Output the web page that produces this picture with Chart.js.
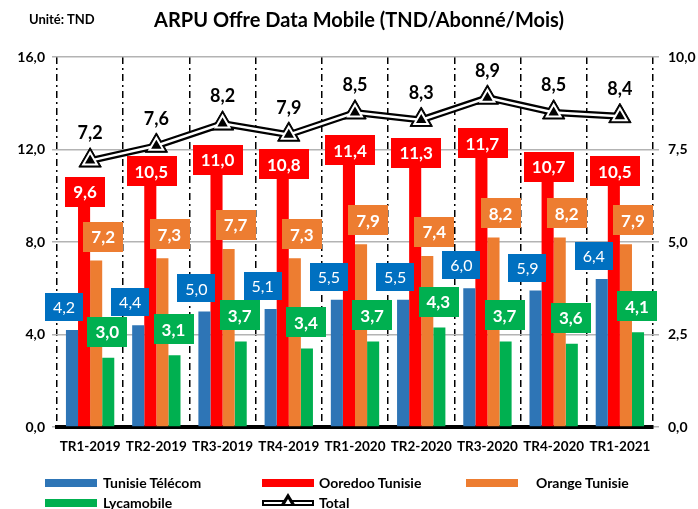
<!DOCTYPE html>
<html><head><meta charset="utf-8">
<script src="https://cdn.jsdelivr.net/npm/chart.js@4.4.1/dist/chart.umd.min.js"></script>
<style>
html,body{margin:0;padding:0;background:#fff;}
#wrap{position:relative;width:698px;height:509px;overflow:hidden;font-family:Lato,'Open Sans',sans-serif;}
canvas{position:absolute;left:0;top:0;}
.t{position:absolute;font-weight:700;color:#000;white-space:nowrap;line-height:1;}
.sw{position:absolute;height:8px;width:52px;}
</style></head><body>
<div id="wrap">
<canvas id="c" width="698" height="509"></canvas>
<div class="t" style="left:29px;top:13px;font-size:13px">Unité: TND</div>
<div class="t" style="left:0;width:718px;text-align:center;top:9px;font-size:20px">ARPU Offre Data Mobile (TND/Abonné/Mois)</div>

<div class="sw" style="left:45px;top:479px;background:#2E75B6"></div>
<div class="t" style="left:103px;top:476px;font-size:14px">Tunisie Télécom</div>
<div class="sw" style="left:262px;top:479px;background:#FF0000"></div>
<div class="t" style="left:319px;top:476px;font-size:14px">Ooredoo Tunisie</div>
<div class="sw" style="left:466px;top:479px;background:#ED7D31"></div>
<div class="t" style="left:536px;top:476px;font-size:14px">Orange Tunisie</div>
<div class="sw" style="left:45px;top:499px;background:#00B050"></div>
<div class="t" style="left:103px;top:496px;font-size:14px">Lycamobile</div>
<div style="position:absolute;left:262px;top:500px;width:48px;height:2px;border:2px solid #000;background:#fff;"></div>
<div style="position:absolute;left:280px;top:493px;width:0;height:0;border-left:8px solid transparent;border-right:8px solid transparent;border-bottom:13px solid #000;"></div>
<div style="position:absolute;left:285px;top:499px;width:0;height:0;border-left:3px solid transparent;border-right:3px solid transparent;border-bottom:5px solid #fff;"></div>
<div class="t" style="left:319px;top:496px;font-size:14px">Total</div>
</div>
<script>
const categories = ['TR1-2019','TR2-2019','TR3-2019','TR4-2019','TR1-2020','TR2-2020','TR3-2020','TR4-2020','TR1-2021'];
const tunisieTelecom = [4.2,4.4,5.0,5.1,5.5,5.5,6.0,5.9,6.4];
const ooredooTunisie = [9.6,10.5,11.0,10.8,11.4,11.3,11.7,10.7,10.5];
const orangeTunisie = [7.2,7.3,7.7,7.3,7.9,7.4,8.2,8.2,7.9];
const lycamobile = [3.0,3.1,3.7,3.4,3.7,4.3,3.7,3.6,4.1];
const total = [7.2,7.6,8.2,7.9,8.5,8.3,8.9,8.5,8.4];
const leftTicks = [0,4,8,12,16];
const rightTicks = [0,2.5,5,7.5,10];

const fmt = v => Number(v).toFixed(1).replace('.', ',');

const boxLabels = {
  id:'boxLabels',
  afterDatasetsDraw(chart){
    const ctx = chart.ctx;
    chart.data.datasets.forEach((ds,i)=>{
      const lb = ds.boxLabel; if(!lb) return;
      const meta = chart.getDatasetMeta(i);
      meta.data.forEach((el,j)=>{
        const txt = fmt(ds.data[j]);
        ctx.save();
        ctx.font = lb.font;
        const w = ctx.measureText(txt).width + lb.padX*2;
        const h = lb.h;
        const cx = el.x + lb.dx, cy = el.y - lb.dy;
        if(lb.bg){ ctx.fillStyle = lb.bg; ctx.fillRect(Math.round(cx-w/2), Math.round(cy-h/2), Math.round(w), h); }
        ctx.fillStyle = lb.color; ctx.textAlign='center'; ctx.textBaseline='middle';
        ctx.fillText(txt, cx, cy+1);
        ctx.restore();
      });
    });
  }
};

const barCommon = {categoryPercentage:0.73, barPercentage:1.0, yAxisID:'y', order:3, borderWidth:0};

new Chart(document.getElementById('c'), {
  type:'bar',
  data:{
    labels:categories,
    datasets:[
      Object.assign({label:'Tunisie Télécom', data:tunisieTelecom, backgroundColor:'#2E75B6',
        boxLabel:{dx:-8, dy:23, h:28, padX:8, bg:'#0070C0', color:'#fff', font:'16px Lato'}}, barCommon),
      Object.assign({label:'Ooredoo Tunisie', data:ooredooTunisie, backgroundColor:'#FF0000',
        boxLabel:{dx:1, dy:13, h:30, padX:8, bg:'#FF0000', color:'#fff', font:'bold 17px Lato'}}, barCommon),
      Object.assign({label:'Orange Tunisie', data:orangeTunisie, backgroundColor:'#ED7D31',
        boxLabel:{dx:7, dy:24, h:30, padX:8, bg:'#ED7D31', color:'#fff', font:'bold 17px Lato'}}, barCommon),
      Object.assign({label:'Lycamobile', data:lycamobile, backgroundColor:'#00B050',
        boxLabel:{dx:-1, dy:26, h:30, padX:8, bg:'#00B050', color:'#fff', font:'bold 17px Lato'}}, barCommon),
      {type:'line', label:'Total', data:total, yAxisID:'y2', order:1,
        borderColor:'#000', borderWidth:7, pointStyle:'triangle', pointRadius:13,
        pointBackgroundColor:'#000', pointBorderColor:'#000', pointBorderWidth:1,
        boxLabel:{dx:0, dy:28, h:24, padX:0, bg:null, color:'#000', font:'bold 18px Lato'}},
      {type:'line', label:'Total_inner', data:total, yAxisID:'y2', order:0,
        borderColor:'#fff', borderWidth:2.5, pointStyle:'triangle', pointRadius:8,
        pointBackgroundColor:'#000', pointBorderColor:'#fff', pointBorderWidth:2}
    ]
  },
  options:{
    responsive:false, animation:false, devicePixelRatio:1,
    layout:{padding:{top:57,bottom:52,left:0,right:0}},
    plugins:{legend:{display:false}, tooltip:{enabled:false}},
    scales:{
      x:{
        afterFit(s){ s.height = 30; },
        grid:{color:'#000', lineWidth:1.5, drawTicks:false, offset:true},
        border:{display:true, color:'#000', width:4, dash:[7,4,2,4]},
        ticks:{color:'#000', font:{family:'Lato', weight:'bold', size:13.5}, padding:12, maxRotation:0, autoSkip:false}
      },
      y:{
        position:'left', min:0, max:16,
        afterFit(s){ s.width = 57; },
        afterBuildTicks(s){ s.ticks = leftTicks.map(v=>({value:v})); },
        grid:{color:'#b3b3b3', lineWidth:1.5, drawTicks:true, tickLength:5},
        border:{display:false},
        ticks:{color:'#000', font:{family:'Lato', weight:'bold', size:14}, padding:7, callback:v=>fmt(v)}
      },
      y2:{
        position:'right', min:0, max:10,
        afterFit(s){ s.width = 45; },
        afterBuildTicks(s){ s.ticks = rightTicks.map(v=>({value:v})); },
        grid:{color:'#b3b3b3', lineWidth:1.5, drawOnChartArea:false, drawTicks:true, tickLength:6},
        border:{display:false},
        ticks:{color:'#000', font:{family:'Lato', weight:'bold', size:14}, padding:9, callback:v=>fmt(v)}
      }
    }
  },
  plugins:[boxLabels]
});
</script>
</body></html>
